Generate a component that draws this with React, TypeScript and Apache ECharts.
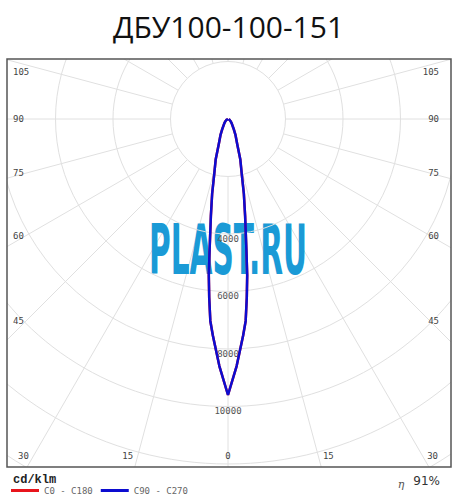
import React, { useEffect, useRef } from 'react';
import * as echarts from 'echarts';

const titleText = 'ДБУ100-100-151';
const beamAngles = [0, 2, 4, 5, 6, 7, 8, 10, 12, 14, 17, 20, 25, 30, 40, 50, 60, 75, 90];
const c0c180 = [9600, 8600, 7550, 7050, 6250, 5480, 4600, 3430, 2650, 1980, 1460, 950, 620, 390, 200, 120, 60, 20, 0];
const c90c270 = [9600, 8600, 7550, 7050, 6250, 5480, 4600, 3430, 2650, 1980, 1460, 950, 620, 390, 200, 120, 60, 20, 0];
const seriesNames = ['C0 - C180', 'C90 - C270'];
const seriesColors = ['#e8141c', '#0c0cd0'];
const angleLabelTicks = [0, 15, 30, 45, 60, 75, 90, 105];
const radiusLabelTicks = [4000, 6000, 8000, 10000];
const unitLabel = 'cd/klm';
const etaSymbol = 'η';
const efficiencyLabel = '91%';
const watermarkText = 'PLAST.RU';

const CX = 228;
const CY = 119;
const R_INNER = 57.5;
const R1 = 402.5;
const FRAME = { x: 7, y: 59, w: 444, h: 408 };
const GRID = '#e0e0e0';
const LABEL_FONT = '"DejaVu Sans Mono", monospace';

function toPolar(vals: number[]) {
  const left = beamAngles.map((a, i) => [vals[i], a]).reverse();
  const right = beamAngles.map((a, i) => [vals[i], 360 - a]);
  return [...left, ...right.slice(1)];
}

function angleLabels() {
  const out: any[] = [];
  const mk = (text: string, x: number, y: number, align: string) => ({
    type: 'text', x, y, z: 52, silent: true,
    style: { text, fill: '#444', fontSize: 9, fontFamily: LABEL_FONT, textAlign: align, textVerticalAlign: 'middle' },
  });
  angleLabelTicks.forEach((a) => {
    const t = (a * Math.PI) / 180;
    const tan = Math.tan(t);
    if (a === 0) {
      out.push(mk(String(a), CX, 456, 'center'));
      return;
    }
    if (a < 90 && 337 * tan <= 202) {
      const dx = 337 * tan + 10;
      out.push(mk(String(a), CX - dx, 456, 'center'));
      out.push(mk(String(a), CX + dx, 456, 'center'));
    } else {
      const y = Math.max(CY + 202 / tan, 72);
      out.push(mk(String(a), 13, y, 'left'));
      out.push(mk(String(a), 439, y, 'right'));
    }
  });
  return out;
}

export default function App() {
  const ref = useRef<HTMLDivElement>(null);
  useEffect(() => {
    document.body.style.margin = '0';
    const chart = echarts.init(ref.current!, null, { renderer: 'svg' });
    const masks = [
      { x: 0, y: 0, width: 457, height: FRAME.y },
      { x: 0, y: FRAME.y + FRAME.h, width: 457, height: 500 - FRAME.y - FRAME.h },
      { x: 0, y: 0, width: FRAME.x, height: 500 },
      { x: FRAME.x + FRAME.w, y: 0, width: 457 - FRAME.x - FRAME.w, height: 500 },
    ].map((s) => ({ type: 'rect', shape: s, z: 50, silent: true, style: { fill: '#fff' } }));

    chart.setOption({
      animation: false,
      title: {
        text: titleText,
        left: 'center',
        top: 6,
        z: 60,
        textStyle: { fontSize: 30, fontWeight: 'normal', fontFamily: '"Open Sans", "Noto Sans", sans-serif', color: '#111' },
      },
      legend: {
        data: seriesNames,
        left: 11,
        top: 486,
        padding: 0,
        z: 60,
        icon: 'rect',
        itemWidth: 28,
        itemHeight: 3,
        itemGap: 8,
        textStyle: { fontSize: 9, fontFamily: LABEL_FONT, color: '#666' },
      },
      polar: { center: [CX, CY], radius: [0, R1] },
      angleAxis: {
        type: 'value', min: 0, max: 360, interval: 15, startAngle: 270, clockwise: true, z: 0,
        axisLine: { show: false }, axisTick: { show: false }, axisLabel: { show: false },
        splitLine: { show: true, lineStyle: { color: GRID, width: 1 } },
      },
      radiusAxis: {
        type: 'value', min: 0, max: 14000, interval: 2000, z: 2,
        axisLine: { show: false }, axisTick: { show: false },
        splitLine: { show: true, lineStyle: { color: GRID, width: 1 } },
        axisLabel: {
          formatter: (v: number) => (radiusLabelTicks.includes(v) ? String(v) : ''),
          margin: 0, align: 'center', verticalAlign: 'top',
          fontSize: 9, fontFamily: LABEL_FONT, color: '#555',
        },
      },
      series: [
        {
          name: seriesNames[0], type: 'line', coordinateSystem: 'polar', data: toPolar(c0c180),
          showSymbol: false, clip: false, z: 3, color: seriesColors[0],
          lineStyle: { width: 2.5, color: seriesColors[0] },
        },
        {
          name: seriesNames[1], type: 'line', coordinateSystem: 'polar', data: toPolar(c90c270),
          showSymbol: false, clip: false, z: 4, color: seriesColors[1],
          lineStyle: { width: 2.5, color: seriesColors[1] },
        },
      ],
      graphic: [
        {
          type: 'circle', z: 0.5, silent: true,
          shape: { cx: CX, cy: CY, r: R_INNER },
          style: { fill: '#fff' },
        },
        {
          type: 'text', x: CX, y: 250, scaleX: 0.47, z: 1, silent: true,
          style: {
            text: watermarkText, fill: '#1a9ad6', fontSize: 70, fontWeight: 'bold',
            fontFamily: '"Liberation Sans Narrow", "DejaVu Sans Condensed", sans-serif',
            textAlign: 'center', textVerticalAlign: 'middle',
          },
        },
        ...masks,
        {
          type: 'rect', z: 51, silent: true,
          shape: { x: FRAME.x, y: FRAME.y, width: FRAME.w, height: FRAME.h },
          style: { fill: 'none', stroke: '#555', lineWidth: 1.5 },
        },
        ...angleLabels(),
        {
          type: 'text', x: 13, y: 480, z: 52, silent: true,
          style: { text: unitLabel, fill: '#222', fontSize: 12, fontWeight: 'bold', fontFamily: '"Liberation Mono", monospace', textAlign: 'left', textVerticalAlign: 'middle' },
        },
        {
          type: 'text', x: 401, y: 484, z: 52, silent: true,
          style: { text: etaSymbol, fill: '#555', fontSize: 11, fontStyle: 'italic', fontFamily: '"DejaVu Serif", serif', textAlign: 'center', textVerticalAlign: 'middle' },
        },
        {
          type: 'text', x: 440, y: 481, z: 52, silent: true,
          style: { text: efficiencyLabel, fill: '#333', fontSize: 12, fontFamily: '"DejaVu Sans", sans-serif', textAlign: 'right', textVerticalAlign: 'middle' },
        },
      ],
    });
    return () => chart.dispose();
  }, []);
  return <div ref={ref} style={{ width: 457, height: 500 }} />;
}
